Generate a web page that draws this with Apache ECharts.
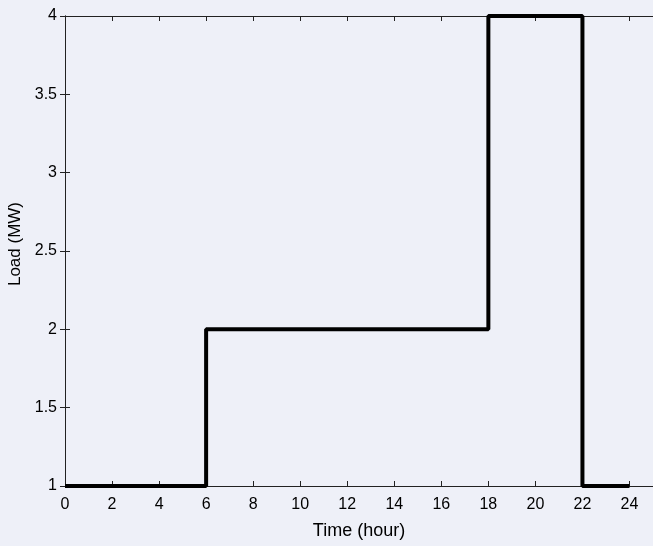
<!DOCTYPE html>
<html>
<head>
<meta charset="utf-8">
<script src="https://cdn.jsdelivr.net/npm/echarts@6/dist/echarts.min.js"></script>
<style>
  html, body { margin: 0; padding: 0; background: #eef0f8; }
  #chart { width: 653px; height: 546px; }
</style>
</head>
<body>
<div id="chart"></div>
<script>
// step points: load holds until the next time
const times = [0, 6, 18, 22, 24]
const loads = [1, 2, 4, 1, 1]

const font = 'Liberation Sans, Arial, sans-serif'

let chart = echarts.init(document.getElementById('chart'))

let boxAxis = {
    axisLine: { show: true, lineStyle: { color: '#222', width: 1 } },
    axisTick: { show: true, inside: true, length: 5, lineStyle: { color: '#222' } },
    axisLabel: { show: false },
    splitLine: { show: false }
}

chart.setOption({
    backgroundColor: '#eef0f8',
    animation: false,
    grid: { left: 65, right: 0, top: 16, bottom: 60, containLabel: false, outerBoundsMode: 'none' },
    xAxis: [
        {
            type: 'value',
            min: 0,
            max: 25,
            interval: 2,
            name: 'Time (hour)',
            nameLocation: 'middle',
            nameGap: 36,
            nameTextStyle: { fontFamily: font, fontSize: 18, color: '#000' },
            axisLine: { show: true, lineStyle: { color: '#222', width: 1 } },
            axisTick: { show: true, inside: true, length: 5, lineStyle: { color: '#222' } },
            axisLabel: {
                fontFamily: font, fontSize: 16, color: '#000', margin: 11,
                formatter: v => (v % 2 === 0 ? String(v) : '')
            },
            splitLine: { show: false }
        },
        Object.assign({ type: 'value', position: 'top', min: 0, max: 25, interval: 2 }, boxAxis)
    ],
    yAxis: [
        {
            type: 'value',
            min: 1,
            max: 4,
            interval: 0.5,
            name: 'Load (MW)',
            nameLocation: 'middle',
            nameGap: 32,
            nameTextStyle: { fontFamily: font, fontSize: 17, color: '#000', padding: [0, 0, 0, 14] },
            axisLine: { show: true, lineStyle: { color: '#222', width: 1 } },
            axisTick: { show: true, inside: true, length: 5, lineStyle: { color: '#222' } },
            axisLabel: { fontFamily: font, fontSize: 16, color: '#000', margin: 8 },
            splitLine: { show: false }
        },
        Object.assign({ type: 'value', position: 'right', min: 1, max: 4, interval: 0.5 }, boxAxis)
    ],
    series: [
        {
            type: 'line',
            step: 'end',
            clip: false,
            symbol: 'none',
            lineStyle: { color: '#000', width: 4 },
            data: times.map((t, i) => [t, loads[i]])
        }
    ]
})
</script>
</body>
</html>
